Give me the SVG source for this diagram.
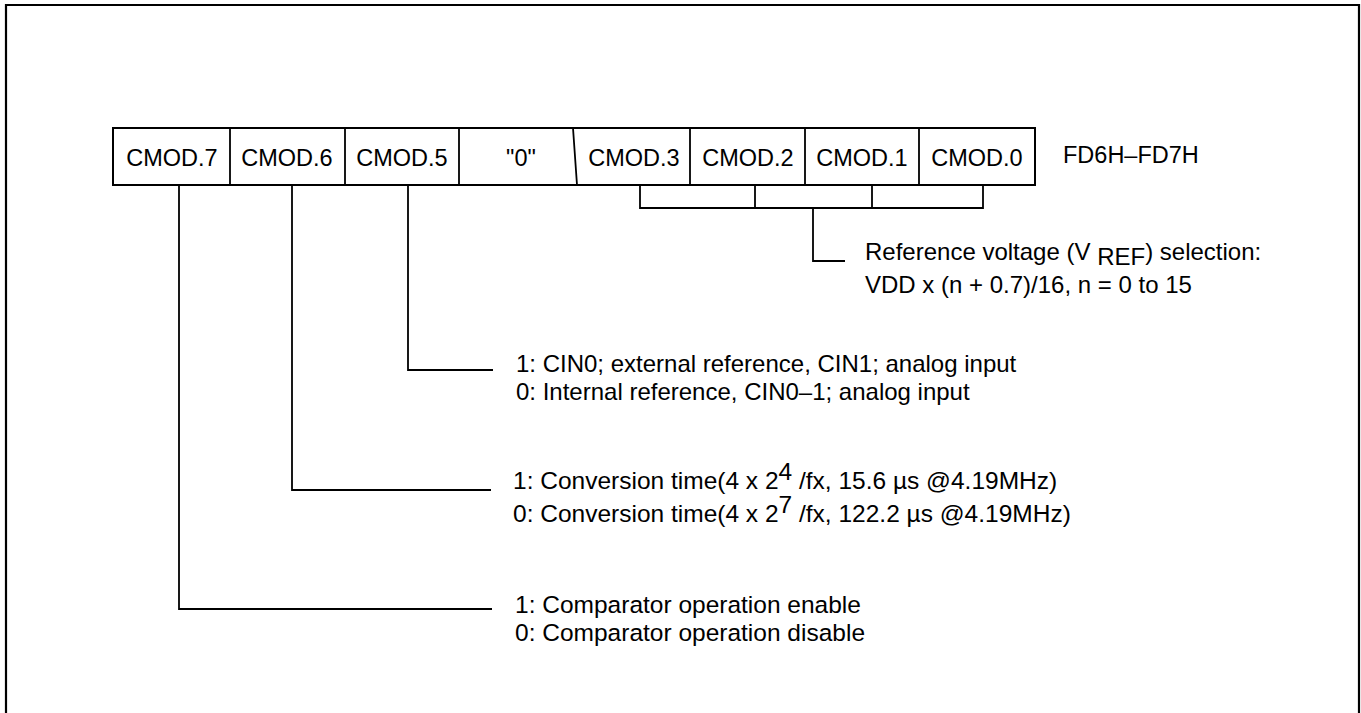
<svg xmlns="http://www.w3.org/2000/svg" width="1361" height="713" viewBox="0 0 1361 713">
<style>
  .frame{fill:none;stroke:#000;stroke-width:2.2}
  .box{fill:#fff;stroke:#000;stroke-width:2}
  .ln{fill:none;stroke:#000;stroke-width:1.8}
  .reg{font-family:"Liberation Sans",Arial,sans-serif;font-size:23.5px;fill:#000;text-anchor:middle}
  .t{font-family:"Liberation Sans",Arial,sans-serif;font-size:24px;fill:#000}
  .t2{font-family:"Liberation Sans",Arial,sans-serif;font-size:24.5px;fill:#000}
</style>
<rect width="1361" height="713" fill="#fff"/>
<path class="frame" d="M6,720 V5 H1359 V720"/>
<g id="register">
  <rect class="box" x="113" y="128" width="922" height="57"/>
  <path class="ln" d="M230,128 V185 M345,128 V185 M459,128 V185 M573,128 L577,185 M690,128 V185 M805,128 V185 M919,128 V185"/>
  <text class="reg" x="172" y="166">CMOD.7</text>
  <text class="reg" x="287" y="166">CMOD.6</text>
  <text class="reg" x="402" y="166">CMOD.5</text>
  <text class="reg" x="521" y="166">"0"</text>
  <text class="reg" x="634" y="166">CMOD.3</text>
  <text class="reg" x="748" y="166">CMOD.2</text>
  <text class="reg" x="862" y="166">CMOD.1</text>
  <text class="reg" x="977" y="166">CMOD.0</text>
</g>
<g id="address">
  <text class="t" x="1063" y="163" style="font-size:23.5px">FD6H–FD7H</text>
</g>
<g id="connectors">
  <path class="ln" d="M640,185 V208 H983 V185 M755,185 V208 M872,185 V208 M813,208 V261 H845"/>
  <path class="ln" d="M408,185 V370 H493"/>
  <path class="ln" d="M292,185 V490 H491"/>
  <path class="ln" d="M179,185 V609 H492"/>
</g>
<g id="vref">
  <text class="t" x="865" y="260">Reference voltage (V <tspan dy="5">REF</tspan><tspan dy="-5">) selection:</tspan></text>
  <text class="t" x="865" y="293">VDD x (n + 0.7)/16, n = 0 to 15</text>
</g>
<g id="cmod5">
  <text class="t" x="516" y="372">1: CIN0; external reference, CIN1; analog input</text>
  <text class="t" x="516" y="400">0: Internal reference, CIN0–1; analog input</text>
</g>
<g id="cmod6">
  <text class="t2" x="513" y="489">1: Conversion time(4 x 2<tspan dy="-9">4</tspan><tspan dy="9"> /fx, 15.6 µs @4.19MHz)</tspan></text>
  <text class="t2" x="513" y="522">0: Conversion time(4 x 2<tspan dy="-9">7</tspan><tspan dy="9"> /fx, 122.2 µs @4.19MHz)</tspan></text>
</g>
<g id="cmod7">
  <text class="t2" x="515" y="613">1: Comparator operation enable</text>
  <text class="t2" x="515" y="641">0: Comparator operation disable</text>
</g>
</svg>
